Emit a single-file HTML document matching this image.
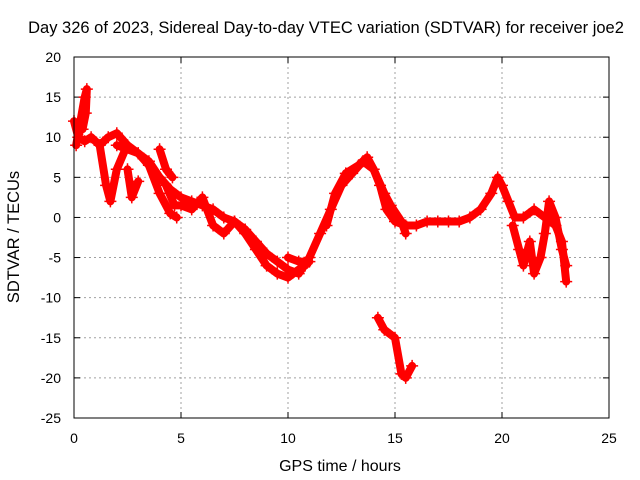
<!DOCTYPE html>
<html><head><meta charset="utf-8"><style>
body{margin:0;background:#fff}
svg{display:block;font-family:"Liberation Sans",sans-serif}
</style></head><body>
<svg id="chart" width="640" height="480">
<text x="326" y="33" font-size="16.5" text-anchor="middle">Day 326 of 2023, Sidereal Day-to-day VTEC variation (SDTVAR) for receiver joe2</text>
<text x="340" y="471" font-size="16" text-anchor="middle">GPS time / hours</text>
<text transform="translate(19,237) rotate(-90)" font-size="16.5" text-anchor="middle">SDTVAR / TECUs</text>
<g id="grid"></g><g id="ticks"></g><g id="marks"></g>
<rect x="74" y="57" width="535" height="361" fill="none" stroke="#000" stroke-width="1"/>
</svg>
<script>
const xTicks=[0,5,10,15,20,25];
const yTicks=[20,15,10,5,0,-5,-10,-15,-20,-25];
const trackA_x=[0,0.2,0.5,0.8,1.2,1.6,2,2.5,3,3.5,4,4.5,5,5.5,6,6.5,7,7.5,8,8.5,9,9.5,10,10.5,11,11.5,12,12.5,13,13.5,14,14.3,14.6,15,15.5,16,16.5,17,17.5,18,18.5,19,19.5,19.8,20,20.3,20.6,21,21.5,22,22.5,22.8,23];
const trackA_y=[12,10,9.5,10,9,10,10.5,9,8,7,5,3.5,2.5,2,1.5,1,0,-0.5,-1.5,-3,-4.5,-5.5,-6.5,-7,-5,-2,1,4,5.5,7,6,4,1,-0.5,-1,-1,-0.5,-0.5,-0.5,-0.5,0,1,3,5,4,2,0,0,1,0,-1,-3,-8];
const trackB_x=[0.1,0.3,0.5,0.6,0.55,0.4];
const trackB_y=[9,12,15,16,13,11];
const trackC_x=[1.2,1.5,1.7,2,2.4];
const trackC_y=[9,4,2,6,8.5];
const trackC2_x=[2.5,2.7,3.0];
const trackC2_y=[6,2.5,4.5];
const trackD_x=[2,3,3.5,4,4.5,4.8];
const trackD_y=[9,8,6.5,3,0.5,0];
const trackE_x=[4.3,4.7,5,5.5,6,6.5,7,7.5,8,8.5,9,9.5,10,10.5,10.8];
const trackE_y=[4,1.5,1.5,1,2.5,-1,-2,-0.5,-2,-4,-6,-7,-7.5,-6.5,-6];
const trackF_x=[4,4.3,4.6];
const trackF_y=[8.5,6,5];
const trackG_x=[14.2,14.5,15,15.3,15.5,15.8];
const trackG_y=[-12.5,-14,-15,-19.5,-20,-18.5];
const trackH_x=[11.8,12.2,12.7,13.3,13.7,14,14.5,14.8,15.3,15.5];
const trackH_y=[-1,3,5.5,6.5,7.5,6,3,1.5,-0.5,-2];
const trackI_x=[20.5,20.8,21,21.3,21.5,21.8,22,22.2,22.5,22.8,23];
const trackI_y=[-1,-4,-6,-3,-7,-5,-2,2,0,-4,-6];
const trackJ_x=[10,10.5,11];
const trackJ_y=[-5,-5.5,-5.5];
const tracks=[[trackA_x,trackA_y],[trackB_x,trackB_y],[trackC_x,trackC_y],[trackC2_x,trackC2_y],[trackD_x,trackD_y],[trackE_x,trackE_y],[trackF_x,trackF_y],[trackG_x,trackG_y],[trackH_x,trackH_y],[trackI_x,trackI_y],[trackJ_x,trackJ_y]];
const X0=74,X1=609,Y0=418,Y1=57;
const sx=v=>X0+(v-0)/(25-0)*(X1-X0);
const sy=v=>Y0-(v+25)/(45)*(Y0-Y1);
const NS='http://www.w3.org/2000/svg';
const grid=document.getElementById('grid'),ticks=document.getElementById('ticks'),marks=document.getElementById('marks');
function mk(tag,attrs,parent){const e=document.createElementNS(NS,tag);for(const k in attrs)e.setAttribute(k,attrs[k]);parent.appendChild(e);return e;}
xTicks.forEach(t=>{const x=sx(t);
 if(t>0&&t<25){const g=mk('line',{x1:x,x2:x,y1:Y1,y2:Y0,stroke:'#a0a0a0','stroke-dasharray':'2,3'},grid);
 
 }
 mk('line',{x1:x,x2:x,y1:Y0,y2:Y0-6,stroke:'#000'},ticks);mk('line',{x1:x,x2:x,y1:Y1,y2:Y1+6,stroke:'#000'},ticks);
 const l=mk('text',{x:x,y:443,'font-size':'14','text-anchor':'middle'},ticks);l.textContent=t;
 
 });
yTicks.forEach(t=>{const y=sy(t);
 if(t<20&&t>-25){const g=mk('line',{x1:X0,x2:X1,y1:y,y2:y,stroke:'#a0a0a0','stroke-dasharray':'2,3'},grid);
 
 }
 mk('line',{x1:X0,x2:X0+6,y1:y,y2:y,stroke:'#000'},ticks);mk('line',{x1:X1,x2:X1-6,y1:y,y2:y,stroke:'#000'},ticks);
 const l=mk('text',{x:61,y:y+5,'font-size':'14','text-anchor':'end'},ticks);l.textContent=t;
 
 });
tracks.forEach(([xs,ys])=>{
 const pts=xs.map((v,i)=>sx(v)+','+sy(ys[i])).join(' ');
 const p=mk('polyline',{points:pts,fill:'none',stroke:'#ff0000','stroke-width':'8','stroke-linejoin':'round','stroke-linecap':'round'},marks);
 
 
 xs.forEach((v,i)=>{const x=sx(v),y=sy(ys[i]);
  const m=mk('path',{d:`M${x-6},${y}H${x+6}M${x},${y-6}V${y+6}`,stroke:'#ff0000','stroke-width':'1.5'},marks);
  
  });
});
</script>
</body></html>
